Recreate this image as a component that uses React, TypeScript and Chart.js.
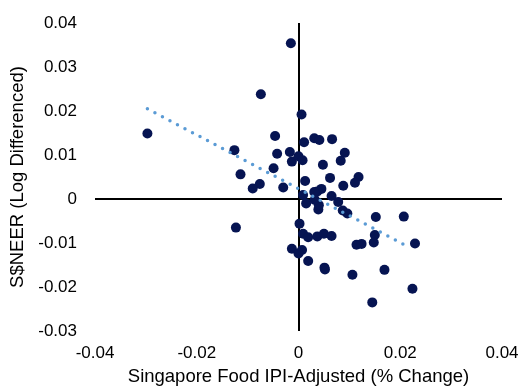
import React, { useEffect, useRef } from "react";
import { Chart, registerables } from "chart.js";

Chart.register(...registerables);

const foodIpiX: number[] = [
  -0.0015, -0.0074, -0.0297, 0.0006, -0.0046, 0.0011, -0.0126, -0.0042, -0.0017, -0.0013,
  0.0, 0.0008, -0.0049, -0.0114, -0.0076, -0.009, -0.003, 0.0013, 0.0009, 0.0031,
  0.0041, 0.0066, 0.0091, 0.0083, 0.0048, 0.0062, 0.0118, 0.0111, 0.0088, 0.0045,
  0.0037, 0.0031, 0.0065, 0.0015, 0.0039, 0.004, 0.0032, 0.0078, 0.0087, 0.0096,
  0.0002, 0.0009, 0.0019, 0.0037, 0.005, 0.0065, -0.0013, 0.0007, 0.0, 0.0019,
  0.0051, 0.0052, 0.0106, 0.0145, 0.0152, 0.015, 0.0148, 0.0114, 0.0124, 0.0169,
  0.0224, 0.0229, 0.0207, -0.0123,
];

const sneerY: number[] = [
  0.0354, 0.0238, 0.0149, 0.0192, 0.0143, 0.0129, 0.0111, 0.0103, 0.0107, 0.0085,
  0.0097, 0.0088, 0.007, 0.0056, 0.0034, 0.0024, 0.0026, 0.0041, 0.0009, 0.0138,
  0.0134, 0.0136, 0.0105, 0.0087, 0.0078, 0.0048, 0.005, 0.0037, 0.003, 0.0023,
  0.0017, 0.0016, 0.0007, -0.001, -0.0024, -0.0014, -0.0002, -0.0007, -0.0026, -0.0033,
  -0.0056, -0.0079, -0.0087, -0.0085, -0.0079, -0.0084, -0.0113, -0.0116, -0.0124, -0.0141,
  -0.0156, -0.016, -0.0172, -0.0235, -0.0041, -0.0082, -0.0099, -0.0104, -0.0102, -0.0161,
  -0.0204, -0.0101, -0.004, -0.0065,
];

const trendX: number[] = [-0.0297, 0.0218];
const trendY: number[] = [0.0205, -0.011];

const xTicks: number[] = [-0.04, -0.02, 0, 0.02, 0.04];
const yTicks: number[] = [-0.03, -0.02, -0.01, 0, 0.01, 0.02, 0.03, 0.04];

const xTitle = "Singapore Food IPI-Adjusted (% Change)";
const yTitle = "S$NEER (Log Differenced)";

const FONT = "'Liberation Sans', Arial, sans-serif";

function fmt(v: number): string {
  return String(Number(Number(v).toFixed(2)));
}

function clearPadding(s: any) {
  s.paddingLeft = 0;
  s.paddingRight = 0;
  s.paddingTop = 0;
  s.paddingBottom = 0;
}

export default function App() {
  const ref = useRef<HTMLCanvasElement | null>(null);

  useEffect(() => {
    if (!ref.current) return;
    const points = foodIpiX.map((x, i) => ({ x, y: sneerY[i] }));
    const trend = trendX.map((x, i) => ({ x, y: trendY[i] }));
    const zeroColor = (c: any) =>
      c.tick && Math.abs(c.tick.value) < 1e-9 ? "#000000" : "rgba(0,0,0,0)";

    const chart = new Chart(ref.current, {
      type: "scatter",
      data: {
        datasets: [
          {
            label: "Trend",
            data: trend,
            showLine: true,
            borderColor: "#5B9BD5",
            backgroundColor: "#5B9BD5",
            borderWidth: 3.5,
            borderDash: [0, 8.5],
            borderCapStyle: "round",
            pointRadius: 0,
            pointHoverRadius: 0,
          } as any,
          {
            label: "Data",
            data: points,
            backgroundColor: "#061452",
            borderColor: "#061452",
            borderWidth: 0,
            pointRadius: 5,
          },
        ],
      },
      options: {
        responsive: false,
        animation: false,
        layout: { padding: { top: 23, right: 19, left: 0, bottom: 0 } },
        plugins: { legend: { display: false }, tooltip: { enabled: false } },
        scales: {
          x: {
            type: "linear",
            min: -0.04,
            max: 0.04,
            afterBuildTicks: (s: any) => {
              s.ticks = xTicks.map((v) => ({ value: v }));
            },
            afterFit: (s: any) => {
              s.height = 58;
              clearPadding(s);
            },
            grid: { color: zeroColor, lineWidth: 2, drawTicks: false },
            border: { display: false },
            ticks: {
              padding: 12,
              maxRotation: 0,
              autoSkip: false,
              color: "#000",
              font: { family: FONT, size: 17 },
              callback: (v: any) => fmt(v),
            },
            title: {
              display: true,
              text: xTitle,
              color: "#000",
              font: { family: FONT, size: 18.5 },
              padding: { top: 0, bottom: 1 },
            },
          },
          y: {
            type: "linear",
            min: -0.03,
            max: 0.04,
            afterBuildTicks: (s: any) => {
              s.ticks = yTicks.map((v) => ({ value: v }));
            },
            afterFit: (s: any) => {
              s.width = 95;
              clearPadding(s);
            },
            grid: { color: zeroColor, lineWidth: 2, drawTicks: false },
            border: { display: false },
            ticks: {
              padding: 18,
              autoSkip: false,
              color: "#000",
              font: { family: FONT, size: 17 },
              callback: (v: any) => fmt(v),
            },
            title: {
              display: true,
              text: yTitle,
              color: "#000",
              font: { family: FONT, size: 18.5 },
              padding: { top: 7, bottom: 0 },
            },
          },
        },
      },
    });
    return () => chart.destroy();
  }, []);

  return (
    <div style={{ position: "absolute", left: 0, top: 0, width: 521, height: 389, background: "#fff" }}>
      <canvas ref={ref} width={521} height={389} style={{ width: 521, height: 389 }} />
    </div>
  );
}
